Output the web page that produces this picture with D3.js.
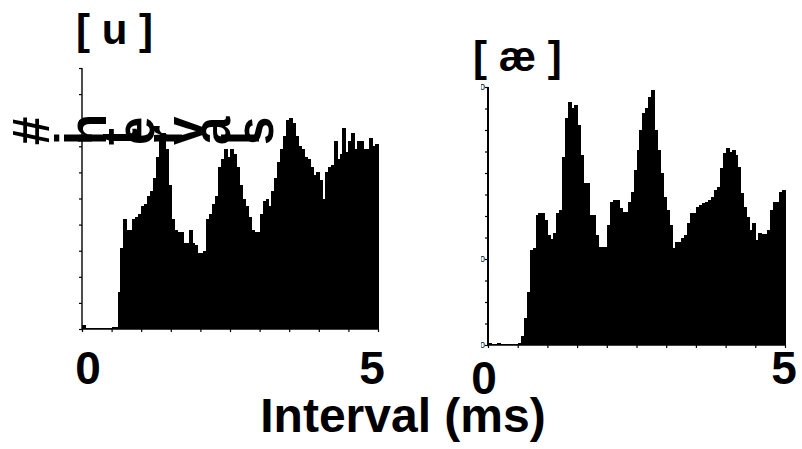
<!DOCTYPE html>
<html><head><meta charset="utf-8">
<script src="https://cdn.jsdelivr.net/npm/d3@7"></script>
<style>html,body{margin:0;padding:0;background:#fff;}svg{display:block;}</style>
</head><body>
<svg id="chart" width="802" height="449"></svg>
<script>
// ---- data ----
const binWidth = 0.05; // ms
const xDomain = [0, 5];
const xMinorTicks = [0,0.5,1,1.5,2,2.5,3,3.5,4,4.5,5];
const xSmallLabels = ["0","1","2","3","4","5"];
const xEndLabels = ["0","5"];
const panelTitles = ["[ u ]", "[ æ ]"];
const xAxisTitle = "Interval (ms)";
const yAxisTitle = "# intervals";
const uTicks = [0,10,20,30,40,50,60,70,80,90,100];
const aeTicks = [0,25,50,75,100,125,150,175,200,225,250,275,300];
const aeTickLabels = [0,100,300];

const uCounts = [1.5,0.5,0.5,0.5,0.5,0.5,0.5,0.5,0.5,0.5,0.6,0.8,14,31,42,38,38,42,43,44,
  47,48,51,53,58,66,72,75,69,55,42,38,37,37,33,33,38,33,32,29,
  29,30,42,44,48,51,62,65,69,66,69,67,62,55,50,47,43,38,37,37,
  44,49,50,47,53,58,64,69,74,80,81,79,74,70,69,66,65,62,59,60,
  57,50,60,62,63,72,65,67,77,68,72,75,69,72,72,69,69,73,70,71];

const aeCounts = [2,1,1,2,1,1,1,1,1,1,2,10,31,62,110,113,151,153,153,145,
  128,123,130,153,157,219,264,283,276,279,256,221,188,188,151,151,128,114,114,114,
  140,166,169,169,159,155,155,166,178,203,227,250,270,276,288,297,250,227,200,172,
  157,140,113,120,120,124,128,142,153,153,160,163,165,166,169,172,180,184,206,223,
  229,224,227,221,207,177,160,149,134,142,122,130,129,129,134,157,166,166,178,180];

// ---- drawing ----
const svg = d3.select("#chart");
const FONT = "'Liberation Sans', Arial, sans-serif";

const panels = [
  {counts: uCounts, yMax: 100, yTicks: uTicks, x0: 82, x1: 378, yb: 329, yt: 68, axisW: 1.4, title: panelTitles[0], tx: 76, ty: 44},
  {counts: aeCounts, yMax: 300, yTicks: aeTicks, x0: 488, x1: 785, yb: 345, yt: 87, axisW: 2, title: panelTitles[1], tx: 473, ty: 71}
];

const defs = svg.append("defs");

panels.forEach((p, pi) => {
  const x = d3.scaleLinear().domain(xDomain).range([p.x0, p.x1]);
  const y = d3.scaleLinear().domain([0, p.yMax]).range([p.yb, p.yt]);
  const g = svg.append("g");
  const bins = p.counts.map((c, i) => ({x0: i * binWidth, c}));
  g.selectAll("rect.bar").data(bins).join("rect")
    .attr("class", "bar")
    .attr("x", d => x(d.x0))
    .attr("width", d => x(d.x0 + binWidth) - x(d.x0) + 1)
    .attr("y", d => y(d.c))
    .attr("height", d => y(0) - y(d.c))
    .attr("shape-rendering", "crispEdges")
    .attr("fill", "#000");

  // y axis
  const ya = g.append("g").attr("transform", `translate(${p.x0},0)`)
    .call(d3.axisLeft(y).tickValues(p.yTicks).tickSize(3).tickFormat(""));
  ya.select(".domain").attr("stroke-width", p.axisW).attr("d", `M0,${p.yt}V${p.yb}`);
  ya.selectAll(".tick line").attr("stroke-width", 1.2);

  // x axis
  const xa = g.append("g").attr("transform", `translate(0,${p.yb})`)
    .call(d3.axisBottom(x).tickValues(xMinorTicks).tickSize(3).tickFormat(""));
  xa.select(".domain").attr("stroke-width", 1.6).attr("d", `M${p.x0},0H${p.x1}`);
  xa.selectAll(".tick line").attr("stroke-width", 1.2);

  // tiny cut-off labels
  const cid = "clip" + pi;
  if (pi === 0) {
    defs.append("clipPath").attr("id", cid).append("rect")
      .attr("x", p.x0 - 10).attr("y", p.yb).attr("width", p.x1 - p.x0 + 20).attr("height", 8);
    g.append("g").attr("clip-path", `url(#${cid})`)
      .selectAll("text").data(xSmallLabels).join("text")
      .attr("x", (d, i) => x(i)).attr("y", p.yb + 14)
      .attr("text-anchor", "middle").attr("font-family", FONT).attr("font-size", 9)
      .text(d => d);
  } else {
    defs.append("clipPath").attr("id", cid).append("rect")
      .attr("x", p.x0 - 7).attr("y", p.yt - 10).attr("width", 7).attr("height", p.yb - p.yt + 20);
    g.append("g").attr("clip-path", `url(#${cid})`)
      .selectAll("text").data(aeTickLabels).join("text")
      .attr("x", p.x0 - 3).attr("y", d => y(d) + 3)
      .attr("text-anchor", "end").attr("font-family", FONT).attr("font-size", 9)
      .text(d => d);
  }

  // panel title
  svg.append("text").attr("x", p.tx).attr("y", p.ty)
    .attr("font-family", FONT).attr("font-weight", "bold").attr("font-size", 42)
    .attr("xml:space", "preserve").style("white-space", "pre")
    .text(p.title);

  // big end labels
  [0, 5].forEach((v, k) => {
    svg.append("text")
      .attr("x", x(v) + (pi === 0 ? (k === 0 ? 6 : -6) : (k === 0 ? -4 : -1)))
      .attr("y", pi === 0 ? 384 : (k === 0 ? 394 : 384))
      .attr("text-anchor", "middle")
      .attr("font-family", FONT).attr("font-weight", "bold").attr("font-size", 46)
      .text(xEndLabels[k]);
  });
});

// x axis title
svg.append("text").attr("x", 403).attr("y", 432).attr("text-anchor", "middle")
  .attr("font-family", FONT).attr("font-weight", "bold").attr("font-size", 48)
  .text(xAxisTitle);

// y axis title: each glyph rotated in place
svg.append("text").attr("x", 49).attr("y", 145)
  .attr("rotate", -90)
  .attr("font-family", FONT).attr("font-weight", "bold").attr("font-size", 51)
  .attr("xml:space", "preserve").style("white-space", "pre")
  .text(yAxisTitle);
</script>
</body></html>
